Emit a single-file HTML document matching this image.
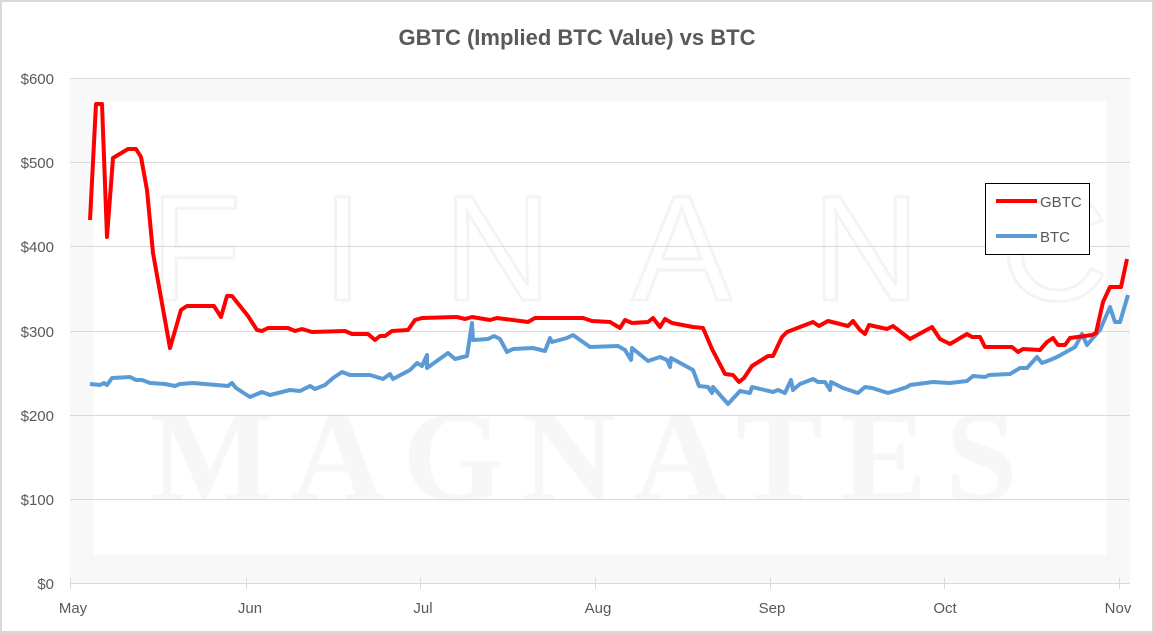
<!DOCTYPE html>
<html><head><meta charset="utf-8"><style>
body{margin:0;background:#fff}
svg{display:block;font-family:"Liberation Sans",sans-serif}
</style></head><body>
<svg width="1154" height="633" viewBox="0 0 1154 633">
<rect x="1" y="1" width="1152" height="631" fill="#fff" stroke="#d9d9d9" stroke-width="2"/>
<rect x="70" y="78" width="1060" height="505" fill="#f8f8f8"/>
<rect x="94" y="101" width="1012" height="454" fill="#fff"/>
<text x="150" y="300" fill="none" stroke="#f4f4f4" stroke-width="3" letter-spacing="80" font-size="150">FINANCE</text>
<text x="150" y="500" fill="#f7f7f7" font-family="Liberation Serif,serif" font-weight="bold" font-size="130" letter-spacing="18">MAGNATES</text>
<g stroke="#d9d9d9" stroke-width="1">
<line x1="70" y1="78.5" x2="1130" y2="78.5"/>
<line x1="70" y1="162.5" x2="1130" y2="162.5"/>
<line x1="70" y1="246.5" x2="1130" y2="246.5"/>
<line x1="70" y1="331.5" x2="1130" y2="331.5"/>
<line x1="70" y1="415.5" x2="1130" y2="415.5"/>
<line x1="70" y1="499.5" x2="1130" y2="499.5"/>
<line x1="70" y1="583.5" x2="1130" y2="583.5"/>
<line x1="70.5" y1="578" x2="70.5" y2="589"/>
<line x1="246.5" y1="578" x2="246.5" y2="589"/>
<line x1="420.5" y1="578" x2="420.5" y2="589"/>
<line x1="595.5" y1="578" x2="595.5" y2="589"/>
<line x1="770.5" y1="578" x2="770.5" y2="589"/>
<line x1="944.5" y1="578" x2="944.5" y2="589"/>
<line x1="1119.5" y1="578" x2="1119.5" y2="589"/>
</g>
<text x="577" y="45" text-anchor="middle" font-size="22" font-weight="bold" fill="#595959">GBTC (Implied BTC Value) vs BTC</text>
<g font-size="15" fill="#595959" text-anchor="end">
<text x="54" y="84">$600</text><text x="54" y="168">$500</text><text x="54" y="252">$400</text>
<text x="54" y="337">$300</text><text x="54" y="421">$200</text><text x="54" y="505">$100</text><text x="54" y="589">$0</text>
</g>
<g font-size="15" fill="#595959" text-anchor="middle">
<text x="73" y="613">May</text><text x="250" y="613">Jun</text><text x="423" y="613">Jul</text>
<text x="598" y="613">Aug</text><text x="772" y="613">Sep</text><text x="945" y="613">Oct</text><text x="1118" y="613">Nov</text>
</g>
<polyline fill="none" stroke="#5b9bd5" stroke-width="4" stroke-linejoin="round" points="90,384 100,385 104,383 107,385 112,378 130,377 136,380 142,380 150,383 165,384 175,386 180,384 193,383 228,386 232,383 236,388 250,397 262,392 270,395 290,390 300,391 310,386 315,389 325,385 333,378 342,372 350,375 370,375 383,379 390,374 393,379 410,370 417,363 422,366 427,355 427,368 448,353 455,359 467,356 472,323 473,340 488,339 494,336 500,339 507,352 513,349 533,348 545,351 550,338 552,342 567,338 573,335 590,347 618,346 625,350 631,360 632,348 648,361 660,357 667,360 670,367 671,358 693,370 699,386 708,387 712,393 713,387 728,404 740,391 750,393 752,387 773,392 778,390 785,393 791,380 793,390 800,384 813,379 818,382 825,382 830,390 831,382 843,388 858,393 865,387 872,388 888,393 898,390 907,387 910,385 933,382 950,383 967,381 973,376 985,377 989,375 1010,374 1020,368 1027,368 1037,357 1042,363 1050,360 1057,357 1075,347 1082,334 1087,345 1100,330 1110,307 1115,322 1120,322 1128,295"/>
<polyline fill="none" stroke="#ff0000" stroke-width="4" stroke-linejoin="round" points="90,220 96,104 102,104 107,237 113,158 128,149 136,149 141,157 147,190 153,253 170,348 181,310 187,306 214,306 221,317 227,296 232,296 248,316 257,330 262,331 268,328 288,328 295,331 302,329 312,332 345,331 352,334 368,334 375,340 380,336 385,336 392,331 408,330 415,320 422,318 457,317 465,319 472,317 490,320 497,318 528,322 535,318 583,318 592,321 610,322 620,328 625,320 632,323 648,322 653,318 660,327 665,319 672,323 693,327 703,328 712,349 725,374 733,375 739,382 744,378 752,366 768,356 773,356 782,337 787,332 800,327 813,322 819,326 828,321 848,326 853,321 860,330 865,334 869,325 887,329 893,326 910,339 932,327 940,339 950,344 967,334 972,337 980,337 985,347 1012,347 1018,352 1023,349 1040,350 1047,342 1053,338 1058,345 1065,345 1070,338 1092,335 1096,333 1103,302 1110,287 1121,287 1127,259"/>
<rect x="985.5" y="183.5" width="104" height="71" fill="#fff" stroke="#000" stroke-width="1"/>
<line x1="996" y1="201" x2="1037" y2="201" stroke="#ff0000" stroke-width="4"/>
<line x1="996" y1="236" x2="1037" y2="236" stroke="#5b9bd5" stroke-width="4"/>
<text x="1040" y="207" font-size="15" fill="#595959">GBTC</text>
<text x="1040" y="242" font-size="15" fill="#595959">BTC</text>
</svg>
</body></html>
